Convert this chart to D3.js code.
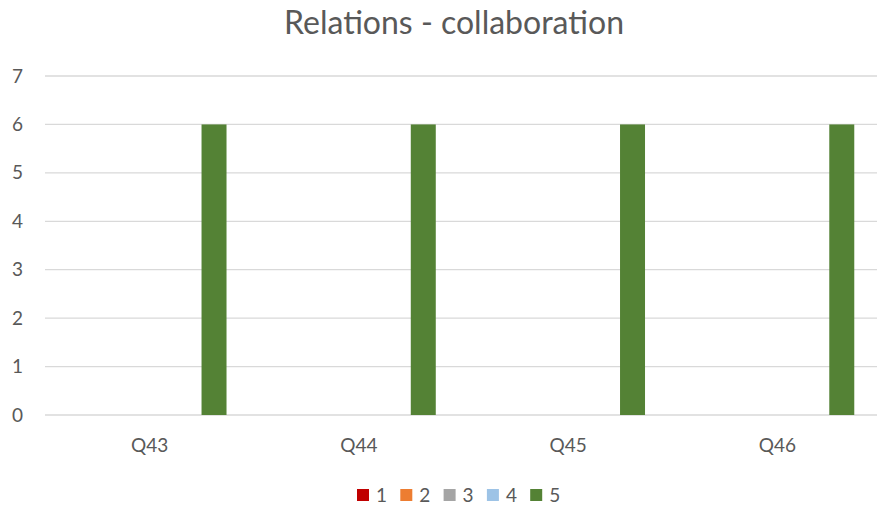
<!DOCTYPE html>
<html>
<head>
<meta charset="utf-8">
<script src="https://cdn.jsdelivr.net/npm/d3@7"></script>
<style>
  html, body { margin: 0; padding: 0; background: #fff; }
  svg { display: block; font-family: Lato, "Open Sans", sans-serif; }
</style>
</head>
<body>
<svg id="chart" width="877" height="507"></svg>
<script>
const categories = ["Q43", "Q44", "Q45", "Q46"];
const seriesNames = ["1", "2", "3", "4", "5"];
const seriesColors = ["#C00000", "#ED7D31", "#A5A5A5", "#9DC3E6", "#548235"];
const values1 = [0, 0, 0, 0];
const values2 = [0, 0, 0, 0];
const values3 = [0, 0, 0, 0];
const values4 = [0, 0, 0, 0];
const values5 = [6, 6, 6, 6];
const yTicks = [0, 1, 2, 3, 4, 5, 6, 7];
const title = "Relations - collaboration";

const seriesValues = [values1, values2, values3, values4, values5];

const svg = d3.select("#chart");
const mLeft = 45, mRight = 882, mTop = 76, mBottom = 415;
const labelFont = "19px";

const x0 = d3.scaleBand().domain(categories).range([mLeft, mRight]).padding(0);
const groupW = 161;
const x1 = d3.scaleBand().domain(seriesNames).range([0, groupW]).paddingInner(0.224).paddingOuter(0.112);
const y = d3.scaleLinear().domain([0, 7]).range([mBottom, mTop]);

// gridlines
svg.append("g").selectAll("line").data(yTicks).join("line")
  .attr("x1", mLeft).attr("x2", mRight)
  .attr("y1", d => y(d)).attr("y2", d => y(d))
  .attr("stroke", "#D9D9D9").attr("stroke-width", 1.3);

// y axis labels
const yAxis = d3.axisLeft(y).tickValues(yTicks).tickFormat(d3.format("d")).tickSize(0).tickPadding(0);
const yg = svg.append("g").attr("transform", "translate(23,0)").call(yAxis);
yg.select(".domain").remove();
yg.selectAll("text").attr("fill", "#595959").style("font-size", labelFont)
  .style("font-family", "Lato, 'Open Sans', sans-serif");

// bars
const groups = svg.append("g").selectAll("g").data(categories).join("g")
  .attr("transform", c => `translate(${x0(c) + (x0.bandwidth() - groupW) / 2},0)`);
groups.selectAll("rect")
  .data((c, ci) => seriesNames.map((s, si) => ({ s, si, v: seriesValues[si][ci] })))
  .join("rect")
  .attr("x", d => x1(d.s))
  .attr("width", x1.bandwidth())
  .attr("y", d => y(d.v))
  .attr("height", d => y(0) - y(d.v))
  .attr("fill", d => seriesColors[d.si]);

// x axis labels
const xAxis = d3.axisBottom(x0).tickSize(0).tickPadding(0);
const xg = svg.append("g").attr("transform", "translate(0,438)").call(xAxis);
xg.select(".domain").remove();
xg.selectAll("text").attr("fill", "#595959").style("font-size", labelFont)
  .style("font-family", "Lato, 'Open Sans', sans-serif");

// title
svg.append("text").attr("x", 454).attr("y", 34).attr("text-anchor", "middle")
  .attr("fill", "#595959").style("font-size", "32px").text(title);

// legend
const legX = 357, legStep = 43.3;
const leg = svg.append("g").selectAll("g").data(seriesNames).join("g")
  .attr("transform", (d, i) => `translate(${legX + i * legStep},489)`);
leg.append("rect").attr("width", 12).attr("height", 12).attr("fill", (d, i) => seriesColors[i]);
leg.append("text").attr("x", 19).attr("y", 13).attr("fill", "#595959")
  .style("font-size", labelFont).text(d => d);
</script>
</body>
</html>
